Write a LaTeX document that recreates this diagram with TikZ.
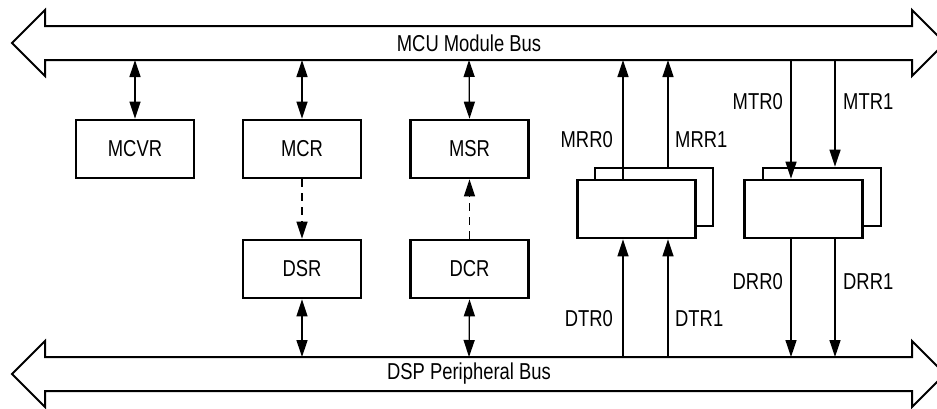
\documentclass[tikz,border=0pt]{standalone}
\usepackage{fontspec}
\setmainfont{Liberation Sans}[FakeStretch=0.8]
\usetikzlibrary{arrows.meta}
\begin{document}
\begin{tikzpicture}[x=1pt,y=-1pt,
  txt/.style={font=\fontsize{23}{26}\selectfont, inner sep=0pt},
  reg/.style={draw, line width=2.6pt, fill=white, minimum width=118pt, minimum height=58pt, inner sep=0pt, font=\fontsize{23}{26}\selectfont},
  bus/.style={draw, line width=2pt, line join=miter, fill=white},
  conn/.style={line width=1.3pt},
  dbl/.style={conn, {Triangle[length=17pt,width=11pt]}-{Triangle[length=17pt,width=11pt]}},
  one/.style={conn, -{Triangle[length=17pt,width=11pt]}},
  dsh/.style={one, dash pattern=on 8pt off 6pt}]
\useasboundingbox (0,0) rectangle (937,408);
% buses
\path[bus] (12,43) -- (45,10) -- (45,26) -- (912,26) -- (912,10) -- (945,43) -- (912,76) -- (912,60) -- (45,60) -- (45,76) -- cycle;
\path[bus] (12,374) -- (45,341) -- (45,357) -- (912,357) -- (912,341) -- (945,374) -- (912,407) -- (912,391) -- (45,391) -- (45,407) -- cycle;
\node[txt] (mcub) at (469,43) {MCU Module Bus};
\node[txt] (dspb) at (469,374) {DSP Peripheral Bus};
% bus tap points
\coordinate (t1) at (135,60);
\coordinate (t2) at (302,60);
\coordinate (t3) at (469,60);
\coordinate (t4) at (623,60);
\coordinate (t5) at (668,60);
\coordinate (t6) at (791,60);
\coordinate (t7) at (835,60);
\coordinate (b2) at (302,357);
\coordinate (b3) at (469,357);
\coordinate (b4) at (623,357);
\coordinate (b5) at (668,357);
\coordinate (b6) at (791,357);
\coordinate (b7) at (835,357);
% registers
\node[reg] (mcvr) at (135,149) {MCVR};
\node[reg] (mcr) at (302,149) {MCR};
\node[reg] (msr) at (469.5,149) {MSR};
\node[reg] (dsr) at (302,269) {DSR};
\node[reg] (dcr) at (469.5,269) {DCR};
\node[reg] (rb) at (654,197) {};
\node[reg] (rf) at (636.5,209) {};
\node[reg] (tb) at (822,197) {};
\node[reg] (tf) at (803.5,209) {};
% connectors
\draw[dbl] (t1) -- (mcvr.north);
\draw[dbl] (t2) -- (mcr.north);
\draw[dbl] (t3) -- (msr.north);
\draw[dbl] (dsr.south) -- (b2);
\draw[dbl] (dcr.south) -- (b3);
\draw[dsh] (mcr.south) -- (dsr.north);
\draw[dsh] (dcr.north) -- (msr.south);
\draw[one] (rf.north -| t4) -- (t4);
\draw[one] (rb.north -| t5) -- (t5);
\draw[one] (t6) -- (tf.north -| t6);
\draw[one] (t7) -- (tb.north -| t7);
\draw[one] (b4) -- (rf.south -| b4);
\draw[one] (b5) -- (rf.south -| b5);
\draw[one] (tf.south -| b6) -- (b6);
\draw[one] (tf.south -| b7) -- (b7);
% labels
\node[txt, anchor=east] (lmrr0) at (613,140) {MRR0};
\node[txt, anchor=west] (lmrr1) at (675,140) {MRR1};
\node[txt, anchor=east] (lmtr0) at (783,102) {MTR0};
\node[txt, anchor=west] (lmtr1) at (843,102) {MTR1};
\node[txt, anchor=east] (ldrr0) at (783,282) {DRR0};
\node[txt, anchor=west] (ldrr1) at (843,282) {DRR1};
\node[txt, anchor=east] (ldtr0) at (613,319) {DTR0};
\node[txt, anchor=west] (ldtr1) at (675,319) {DTR1};
\end{tikzpicture}
\end{document}
